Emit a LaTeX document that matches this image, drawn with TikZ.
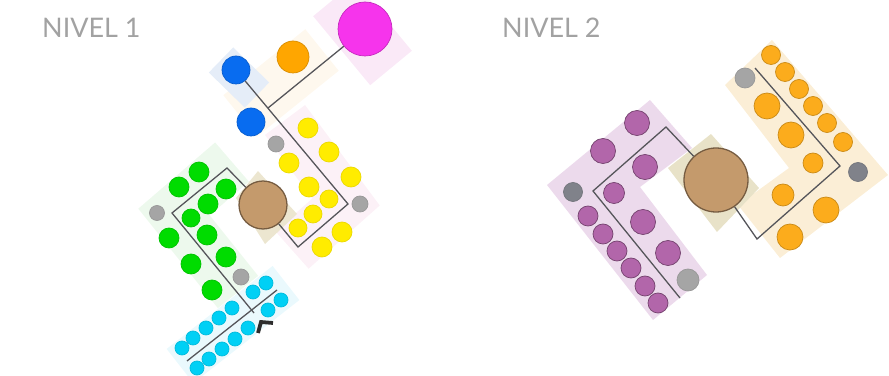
\documentclass[tikz,border=0pt]{standalone}
\usepackage{fontspec}
\setmainfont{Lato}

\definecolor{ligne}{RGB}{85,85,90}
\definecolor{titre}{RGB}{162,162,162}
\definecolor{magen}{RGB}{246,52,236}
\definecolor{orang}{RGB}{255,166,0}
\definecolor{bleu}{RGB}{8,108,240}
\definecolor{jaune}{RGB}{255,236,0}
\definecolor{vert}{RGB}{0,220,0}
\definecolor{cyan1}{RGB}{0,208,245}
\definecolor{gris}{RGB}{165,165,165}
\definecolor{grisf}{RGB}{128,130,138}
\definecolor{brun}{RGB}{196,154,108}
\definecolor{violet1}{RGB}{178,102,170}
\definecolor{orang2}{RGB}{252,172,28}
\definecolor{fmagen}{RGB}{250,233,247}
\definecolor{fbleu}{RGB}{229,237,248}
\definecolor{fcreme}{RGB}{254,248,238}
\definecolor{frose}{RGB}{252,241,247}
\definecolor{fvert}{RGB}{237,249,237}
\definecolor{fcyan}{RGB}{234,249,253}
\definecolor{fbrun}{RGB}{236,230,208}
\definecolor{fviolet}{RGB}{236,218,236}
\definecolor{forang}{RGB}{251,238,214}
\definecolor{fkaki}{RGB}{232,226,200}
\definecolor{fleche}{RGB}{45,45,45}

\begin{document}
\begin{tikzpicture}[x=0.03cm, y=-0.03cm,
  dot/.style={circle, inner sep=0pt, minimum size=#1*0.06cm, line width=0.6pt},
  magdot/.style={dot=#1, fill=magen, draw=magen!80!black},
  orgdot/.style={dot=#1, fill=orang, draw=orang!85!black},
  bludot/.style={dot=#1, fill=bleu, draw=bleu!85!black},
  yeldot/.style={dot=#1, fill=jaune, draw=jaune!92!black},
  grndot/.style={dot=#1, fill=vert, draw=vert!88!black},
  cyndot/.style={dot=#1, fill=cyan1, draw=cyan1!90!black},
  grydot/.style={dot=#1, fill=gris, draw=gris!92!black},
  dgrydot/.style={dot=#1, fill=grisf, draw=grisf!90!black},
  brndot/.style={dot=#1, fill=brun, draw=brun!60!black, line width=1.1pt},
  viodot/.style={dot=#1, fill=violet1, draw=violet1!65!black},
  or2dot/.style={dot=#1, fill=orang2, draw=orang2!80!black},
  fond/.style={line join=miter, line cap=butt},
  spine/.style={draw=ligne, line width=1.1pt},
  titlenode/.style={anchor=base west, inner sep=0pt, text=titre, font=\fontsize{23}{23}\selectfont}]
  \useasboundingbox (0,0) rectangle (889,376);

  % Les fonds (niveau 1)
  \draw[fond, draw=fcreme, line width=1.6cm] (240,116) -- (322,50);
  \draw[fond, draw=fbleu, line width=1.05cm] (221,60) -- (257,95);
  \draw[fond, draw=fmagen, line width=1.62cm] (334,-1) -- (391,68);
  \draw[fond, draw=frose, line width=1.5cm] (285,120) -- (346,202) -- (292,250);
  \draw[fond, draw=fvert, line width=1.55cm] (232,162) -- (174,212) -- (238,292);
  \draw[fond, draw=fcyan, line width=1.3cm] (180,366) -- (286,283);
  \fill[fbrun] (258,171) -- (297,214) -- (265,244) -- (236,198) -- cycle;

  % Les fonds (niveau 2)
  \fill[fviolet] (547,185) -- (650,100) -- (692,148) -- (640,187) -- (707,275) -- (653,320) -- cycle;
  \fill[forang] (772,40) -- (888,175) -- (780,258) -- (738,205) -- (789,168) -- (725,85) -- cycle;
  \fill[fkaki] (711,134) -- (759,188) -- (717,232) -- (668,168) -- cycle;

  % Les cercles principaux
  \node[magdot=27] (mag) at (365,29) {};
  \node[orgdot=16] (org) at (293,57) {};
  \node[bludot=14] (blu1) at (236,70) {};
  \node[bludot=14] (blu2) at (251,122) {};
  \node[brndot=24] (brnL) at (263,205) {};
  \node[brndot=32] (brnR) at (716,180) {};

  % Les lignes (niveau 1)
  \coordinate (nd) at (268,108);
  \coordinate (ja) at (348,204);
  \coordinate (jb) at (298,247);
  \coordinate (va) at (227,168);
  \coordinate (vb) at (172,213);
  \coordinate (vc) at (254,313);
  \coordinate (ca) at (187,361);
  \coordinate (cb) at (277,290);
  \draw[spine] (blu1) -- (ja) -- (jb) -- (brnL);
  \draw[spine] (nd) -- (mag);
  \draw[spine] (brnL) -- (va) -- (vb) -- (vc);
  \draw[spine] (ca) -- (cb);

  % Les lignes (niveau 2)
  \coordinate (pa) at (666,127);
  \coordinate (pb) at (593,191);
  \coordinate (pc) at (680,298);
  \coordinate (oa) at (757,239);
  \coordinate (ob) at (840,166);
  \coordinate (oc) at (755,68);
  \draw[spine] (brnR) -- (pa) -- (pb) -- (pc);
  \draw[spine] (brnR) -- (oa) -- (ob) -- (oc);

  % Les cercles jaunes
  \node[yeldot=10] (y1) at (308,128) {};
  \node[yeldot=10] (y2) at (329,152) {};
  \node[yeldot=10] (y3) at (289,163) {};
  \node[yeldot=10] (y4) at (351,177) {};
  \node[yeldot=10] (y5) at (309,187) {};
  \node[yeldot=9] (y6) at (329,199) {};
  \node[yeldot=9] (y7) at (313,214) {};
  \node[yeldot=9] (y8) at (298,228) {};
  \node[yeldot=10] (y9) at (342,232) {};
  \node[yeldot=10] (y10) at (322,247) {};

  % Les cercles verts
  \node[grndot=10] (g1) at (199,172) {};
  \node[grndot=10] (g2) at (179,187) {};
  \node[grndot=10] (g3) at (226,189) {};
  \node[grndot=10] (g4) at (208,204) {};
  \node[grndot=9] (g5) at (191,218) {};
  \node[grndot=10] (g6) at (169,238) {};
  \node[grndot=10] (g7) at (207,235) {};
  \node[grndot=10] (g8) at (226,257) {};
  \node[grndot=10] (g9) at (191,264) {};
  \node[grndot=10] (g10) at (212,290) {};

  % Les cercles cyan
  \node[cyndot=7] (c1) at (266,283) {};
  \node[cyndot=7] (c2) at (253,292) {};
  \node[cyndot=7] (c3) at (281,300) {};
  \node[cyndot=7] (c4) at (268,310) {};
  \node[cyndot=7] (c5) at (232,308) {};
  \node[cyndot=7] (c6) at (219,318) {};
  \node[cyndot=7] (c7) at (248,328) {};
  \node[cyndot=7] (c8) at (206,328) {};
  \node[cyndot=7] (c9) at (235,339) {};
  \node[cyndot=7] (c10) at (193,338) {};
  \node[cyndot=7] (c11) at (222,349) {};
  \node[cyndot=7] (c12) at (182,348) {};
  \node[cyndot=7] (c13) at (209,359) {};
  \node[cyndot=7] (c14) at (197,368) {};

  % Les cercles gris
  \node[grydot=8] (gr1) at (276,144) {};
  \node[grydot=8] (gr2) at (360,204) {};
  \node[grydot=7.5] (gr3) at (157,213) {};
  \node[grydot=8] (gr4) at (241,277) {};
  \node[dgrydot=9.5] (gr5) at (573,192) {};
  \node[grydot=11] (gr6) at (688,280) {};
  \node[grydot=10] (gr7) at (745,78) {};
  \node[dgrydot=9.5] (gr8) at (858,172) {};

  % Les cercles violets
  \node[viodot=12.5] (p1) at (637,123) {};
  \node[viodot=12.5] (p2) at (603,151) {};
  \node[viodot=12.5] (p3) at (645,167) {};
  \node[viodot=10.5] (p4) at (614,193) {};
  \node[viodot=10] (p5) at (588,216) {};
  \node[viodot=12.5] (p6) at (643,222) {};
  \node[viodot=10] (p7) at (603,234) {};
  \node[viodot=10] (p8) at (617,251) {};
  \node[viodot=12.5] (p9) at (668,253) {};
  \node[viodot=10] (p10) at (631,268) {};
  \node[viodot=10] (p11) at (645,286) {};
  \node[viodot=10] (p12) at (658,303) {};

  % Les cercles oranges
  \node[or2dot=9.5] (o1) at (771,55) {};
  \node[or2dot=9.5] (o2) at (785,72) {};
  \node[or2dot=9.5] (o3) at (799,89) {};
  \node[or2dot=13] (o4) at (767,106) {};
  \node[or2dot=9.5] (o5) at (813,106) {};
  \node[or2dot=9.5] (o6) at (827,123) {};
  \node[or2dot=13] (o7) at (791,135) {};
  \node[or2dot=9.5] (o8) at (843,142) {};
  \node[or2dot=10] (o9) at (813,163) {};
  \node[or2dot=11] (o10) at (783,195) {};
  \node[or2dot=13] (o11) at (826,210) {};
  \node[or2dot=13] (o12) at (790,237) {};

  % La fleche
  \draw[fleche, line width=3.2pt, line join=miter] (258,333) -- (261,322) -- (273,323);

  % Les titres
  \node[titlenode] (t1) at (42,38) {NIVEL 1};
  \node[titlenode] (t2) at (502,38) {NIVEL 2};

\end{tikzpicture}
\end{document}
